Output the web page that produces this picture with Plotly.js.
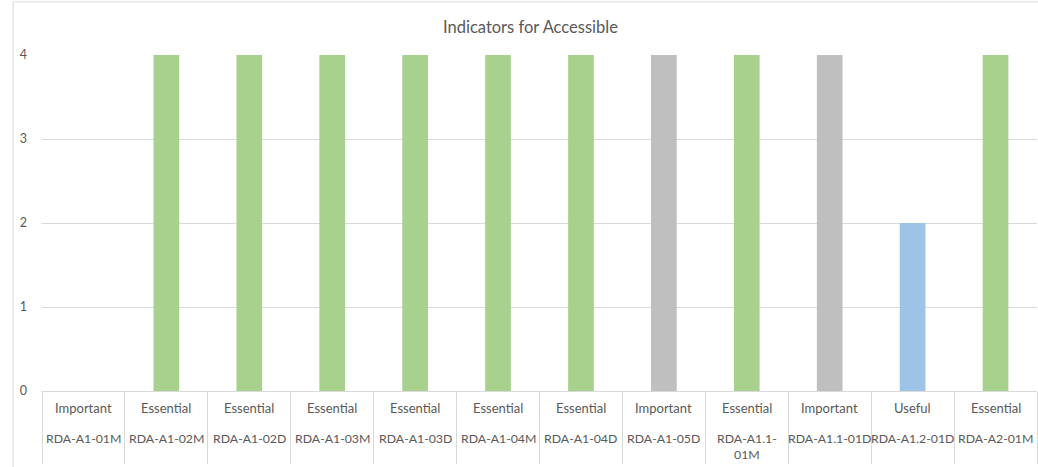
<!DOCTYPE html>
<html>
<head>
<meta charset="utf-8">
<script src="https://cdn.plot.ly/plotly-3.0.1.min.js"></script>
<style>html,body{margin:0;padding:0;background:#fff;}#chart{width:1038px;height:467px;}</style>
</head>
<body>
<div id="chart"></div>
<script>
const ids = ["RDA-A1-01M","RDA-A1-02M","RDA-A1-02D","RDA-A1-03M","RDA-A1-03D","RDA-A1-04M","RDA-A1-04D","RDA-A1-05D","RDA-A1.1-<br>01M","RDA-A1.1-01D","RDA-A1.2-01D","RDA-A2-01M"];
const priorities = ["Important","Essential","Essential","Essential","Essential","Essential","Essential","Important","Essential","Important","Useful","Essential"];
const values = [0,4,4,4,4,4,4,4,4,4,2,4];
const priorityColors = {Essential:"#a9d18e", Important:"#bfbfbf", Useful:"#9dc3e6"};
const yTicks = [0,1,2,3,4];

const cats = ids.map((d,i)=>"c"+i);
const txtColor = "#595959";
const font = "Lato, 'Open Sans', sans-serif";

const trace = {
  type:"bar", x:cats, y:values,
  marker:{color:priorities.map(p=>priorityColors[p])},
  hoverinfo:"skip"
};

const annotations = [];
cats.forEach((c,i)=>{
  annotations.push({x:c, xref:"x", y:0, yref:"paper", yanchor:"middle", yshift:-17, text:priorities[i], showarrow:false, font:{family:font,size:13,color:txtColor}});
  annotations.push({x:c, xref:"x", y:0, yref:"paper", yanchor:"top", yshift:-38, text:ids[i], showarrow:false, font:{family:font,size:12.3,color:txtColor}});
});
annotations.push({text:"Indicators for Accessible", xref:"paper", yref:"paper", x:0.491, y:1, yshift:28, yanchor:"middle", showarrow:false, font:{family:font,size:16.5,color:txtColor}});

const layout = {
  width:1038, height:467,
  margin:{l:42, r:1, t:55, b:76},
  paper_bgcolor:"#fff", plot_bgcolor:"#fff",
  showlegend:false,
  bargap:0.69,
  xaxis:{type:"category", showticklabels:false, tickson:"boundaries", ticks:"outside", ticklen:72, tickcolor:"#d9d9d9", tickwidth:1,
         showline:true, linecolor:"#d9d9d9", showgrid:false, zeroline:false, fixedrange:true},
  yaxis:{range:[0,4], tickvals:yTicks, ticktext:yTicks.map(String), showgrid:true, gridcolor:"#d9d9d9", zeroline:false,
         tickfont:{family:font,size:12.5,color:txtColor}, ticks:"", ticklabelstandoff:14, fixedrange:true},
  annotations:annotations,
  shapes:[
    {type:"line", xref:"paper", yref:"paper", x0:-0.029, x1:-0.029, y0:1.158, y1:-0.3, line:{color:"#d9d9d9", width:1}},
    {type:"line", xref:"paper", yref:"paper", x0:-0.029, x1:1.01, y0:1.158, y1:1.158, line:{color:"#d9d9d9", width:1}}
  ]
};
Plotly.newPlot("chart",[trace],layout,{displayModeBar:false, staticPlot:true});
</script>
</body>
</html>
